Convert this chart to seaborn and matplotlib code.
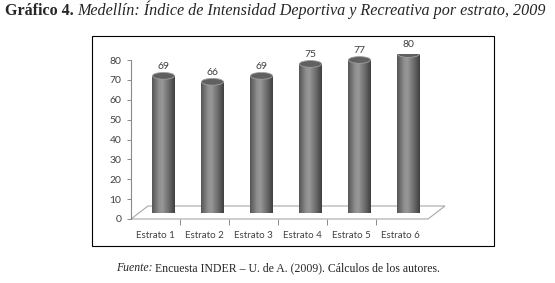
import numpy as np
import pandas as pd
import matplotlib
matplotlib.use("Agg")
import matplotlib.pyplot as plt
import seaborn as sns
from matplotlib.colors import LinearSegmentedColormap
from matplotlib.patches import Ellipse, Rectangle, Polygon

# Datos
estratos = ["Estrato 1", "Estrato 2", "Estrato 3", "Estrato 4", "Estrato 5", "Estrato 6"]
indice = [69, 66, 69, 75, 77, 80]
y_ticks = [0, 10, 20, 30, 40, 50, 60, 70, 80]

titulo_a = "Gráfico 4."
titulo_b = "Medellín: Índice de Intensidad Deportiva y Recreativa por estrato, 2009"
fuente_a = "Fuente:"
fuente_b = " Encuesta INDER – U. de A. (2009). Cálculos de los autores."

sns.set_style("white")
plt.rcParams["font.family"] = ["Lato", "DejaVu Sans"]

W, H = 555, 283
fig = plt.figure(figsize=(W / 100, H / 100), dpi=100)

# ejes frontales (escala) y ejes de las barras (plano desplazado, efecto 3D)
ax = fig.add_axes([131 / W, 1 - 219 / H, 294 / W, 159 / H])
ax_b = fig.add_axes([139 / W, 1 - 213 / H, 294 / W, 159 / H])

df = pd.DataFrame({"estrato": estratos, "indice": indice})
sns.barplot(data=df, x="estrato", y="indice", color="#777777", width=0.45,
            ax=ax_b, errorbar=None)

cmap = LinearSegmentedColormap.from_list(
    "cil", [(0, "#555555"), (0.3, "#8e8e8e"), (0.45, "#989898"),
            (0.75, "#6a6a6a"), (1, "#404040")])
grad = np.linspace(0, 1, 64).reshape(1, -1)
eh = 3.4  # alto de la elipse en unidades de datos

for p, v in zip(ax_b.patches, indice):
    x0, w, h = p.get_x(), p.get_width(), p.get_height()
    cx = x0 + w / 2
    p.set_facecolor("none")
    p.set_edgecolor("none")
    im = ax_b.imshow(grad, extent=[x0, x0 + w, 0, h], aspect="auto", cmap=cmap,
                     interpolation="bilinear", zorder=2)
    im.set_clip_path(p)
    base = Ellipse((cx, 0), w, eh, facecolor="none", edgecolor="none")
    ax_b.add_patch(base)
    im2 = ax_b.imshow(grad, extent=[x0, x0 + w, -eh / 2, 0], aspect="auto",
                      cmap=cmap, interpolation="bilinear", zorder=2)
    im2.set_clip_path(base)
    ax_b.add_patch(Ellipse((cx, h), w, eh, facecolor="#606060",
                           edgecolor="#a0a0a0", lw=0.6, zorder=3))
    ax_b.text(cx, h + 2.3, f"{v}", ha="center", va="bottom", fontsize=7.5,
              color="#404040")

ax_b.set_xlim(-0.5, 5.5)
ax_b.set_ylim(0, 80)
ax_b.axis("off")
ax_b.patch.set_alpha(0)

# ejes de escala
ax.set_xlim(-0.5, 5.5)
ax.set_ylim(0, 80)
ax.set_yticks(y_ticks)
ax.set_xticks(range(len(estratos)))
ax.set_xticklabels(estratos)
ax.set_xticks([i + 0.5 for i in range(len(estratos) - 1)], minor=True)
ax.tick_params(axis="y", length=3, width=0.7, color="#8a8a8a", labelsize=7.5,
               labelcolor="#404040", pad=4, left=True)
ax.tick_params(axis="x", which="major", length=0, labelsize=7,
               labelcolor="#404040", pad=9)
ax.tick_params(axis="x", which="minor", length=4, width=0.7, color="#8a8a8a",
               bottom=True)
for s in ["top", "right", "bottom"]:
    ax.spines[s].set_visible(False)
ax.spines["left"].set_color("#8a8a8a")
ax.spines["left"].set_linewidth(0.8)
ax.set_xlabel("")
ax.set_ylabel("")

# piso en perspectiva
pos = ax.get_position()
x0, y0, x1 = pos.x0, pos.y0, pos.x1 + 3 / W
dx, dy = 17 / W, 13 / H
piso = Polygon([(x0, y0), (x1, y0), (x1 + dx, y0 + dy), (x0 + dx, y0 + dy)],
               closed=True, transform=fig.transFigure, facecolor="none",
               edgecolor="#a8a8a8", lw=0.8, clip_on=False)
ax.add_patch(piso)

# marco
fig.add_artist(Rectangle((92 / W, 1 - 246 / H), 402 / W, 210 / H,
                         transform=fig.transFigure, facecolor="none",
                         edgecolor="black", lw=0.8))

# título y fuente
renderer = fig.canvas.get_renderer()
serif = ["Liberation Serif", "DejaVu Serif"]
t1 = fig.text(5 / W, 1 - 15 / H, titulo_a, fontsize=11.5, fontweight="bold",
              family=serif, va="baseline")
bb = t1.get_window_extent(renderer)
t2 = fig.text((bb.x1 + 3) / W, 1 - 15 / H, titulo_b, fontsize=11.5,
              style="italic", family=serif, va="baseline")
# ajustar el ancho del título a la figura
tot = t2.get_window_extent(renderer).x1 - 5
esc = 544 / tot
for t in (t1, t2):
    t.set_fontsize(11.5 * esc)
bb = t1.get_window_extent(renderer)
t2.set_x((bb.x1 + 3) / W)

f1 = fig.text(0, 1 - 271 / H, fuente_a, fontsize=8.5, style="italic",
              family=serif, va="baseline")
f2 = fig.text(0, 1 - 271 / H, fuente_b, fontsize=8.5, family=serif,
              va="baseline")
w1 = f1.get_window_extent(renderer).width
w2 = f2.get_window_extent(renderer).width
start = 278 - (w1 + w2) / 2
f1.set_x(start / W)
f2.set_x((start + w1) / W)

fig.savefig("out.png", dpi=100)
